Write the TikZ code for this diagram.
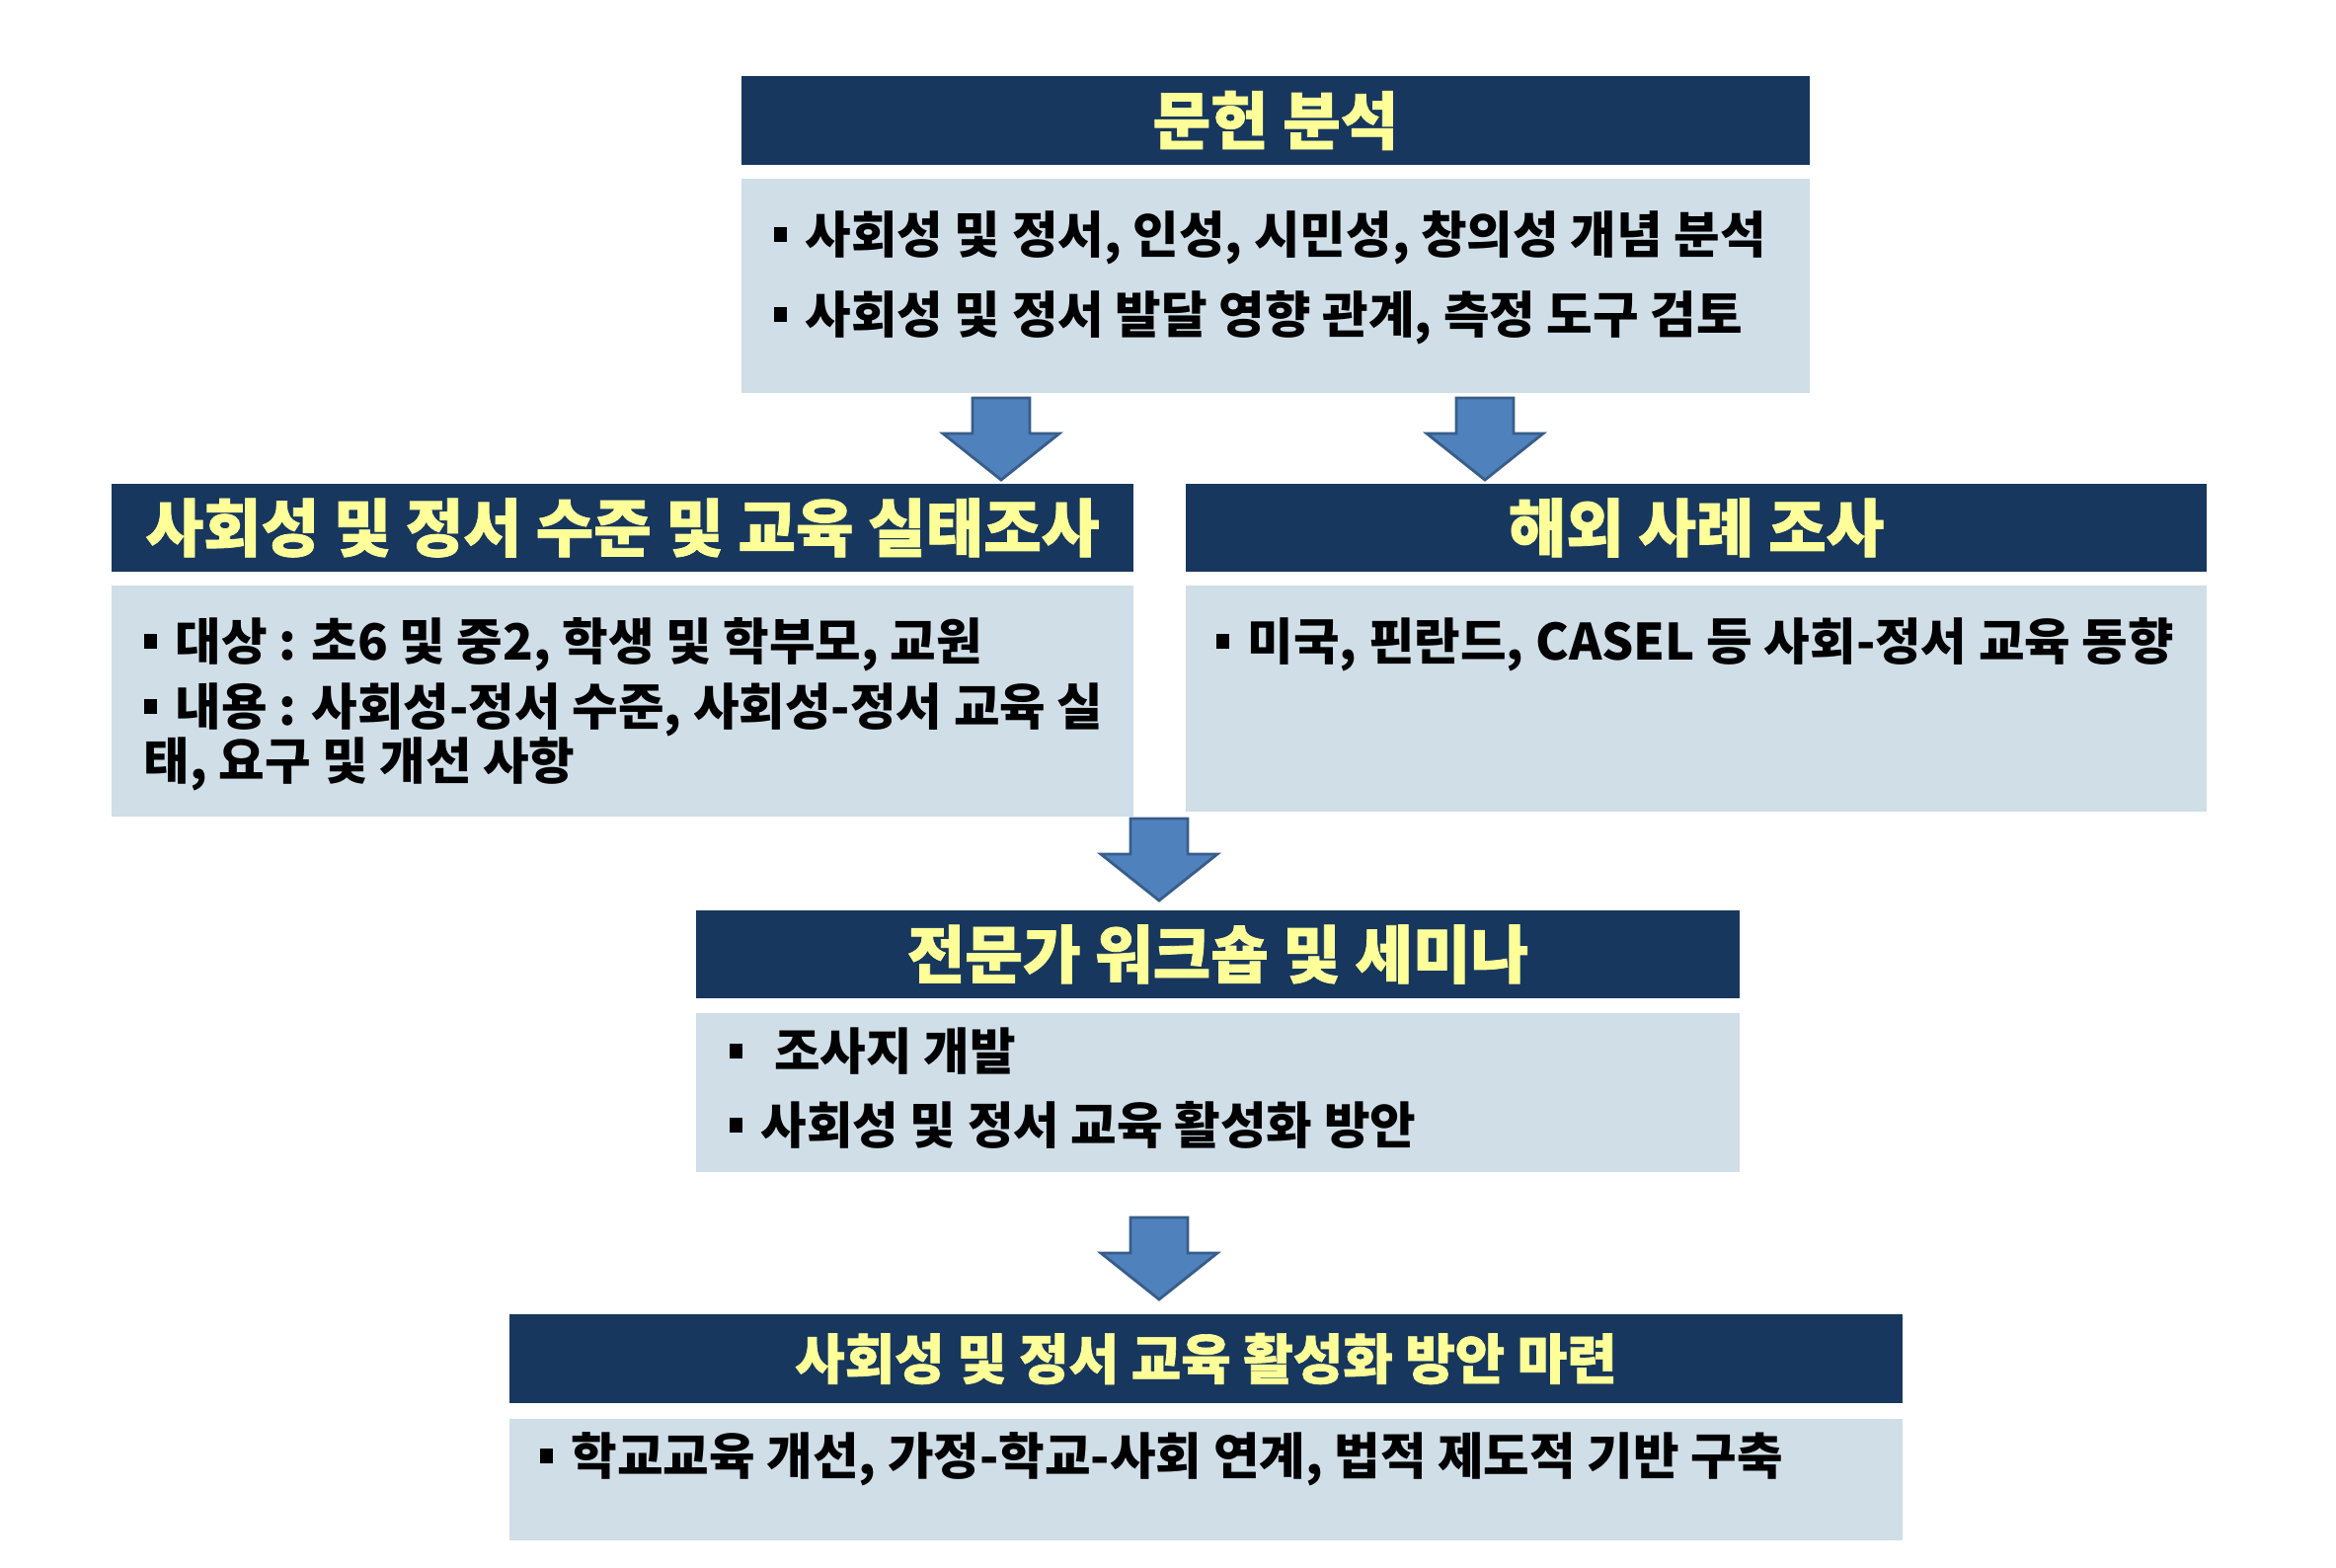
\documentclass[tikz,border=0pt]{standalone}
\usepackage{fontspec}
\usetikzlibrary{fit}
\setmainfont{Noto Sans CJK KR}
\newfontfamily\hdfont{Noto Sans CJK KR}[FakeBold=1.2]
\definecolor{navy}{HTML}{17375E}
\definecolor{hdtext}{HTML}{FFFF99}
\definecolor{bodyfill}{HTML}{CFDEE7}
\definecolor{arrfill}{HTML}{4F81BD}
\definecolor{arrline}{HTML}{385D8A}
\newcommand\mybul{\rule[0.22em]{0.27em}{0.3em}\hspace{0.36em}}
\tikzset{
  hdbox/.style={fill=navy, draw=none, inner sep=0pt},
  bodybox/.style={fill=bodyfill, draw=none, inner sep=0pt},
  hdtxt/.style={text=hdtext, inner sep=0pt, font=\hdfont\bfseries\fontsize{18.1pt}{22pt}\selectfont},
  hdtxtsmall/.style={hdtxt, font=\hdfont\bfseries\fontsize{15.6pt}{19pt}\selectfont},
  bodytxt/.style={anchor=base west, inner sep=0pt, text=black, font=\bfseries\fontsize{14.4pt}{17pt}\selectfont},
  blockarr/.style={fill=arrfill, draw=arrline, line width=0.8pt, line join=miter},
}
\begin{document}
\begin{tikzpicture}[x=0.01cm, y=-0.01cm]
\useasboundingbox (0,0) rectangle (2366,1587);
\fill[white] (0,0) rectangle (2366,1587);

% top
\node[hdbox, fit={(751,77) (1833,167)}] (h1) {};
\node[hdtxt] (h1t) at (h1) {문헌 분석};
\node[bodybox, fit={(751,181) (1833,398)}] (b1) {};
\node[bodytxt] (b1l1) at (783,256) {\mybul 사회성 및 정서, 인성, 시민성, 창의성 개념 분석};
\node[bodytxt] (b1l2) at (783,337) {\mybul 사회성 및 정서 발달 영향 관계, 측정 도구 검토};

% left
\node[hdbox, fit={(113,490) (1148,579)}] (h2) {};
\node[hdtxt] (h2t) at (h2) {사회성 및 정서 수준 및 교육 실태조사};
\node[bodybox, fit={(113,593) (1148,827)}] (b2) {};
\node[bodytxt] (b2l1) at (145,668) {\mybul 대상 : 초6 및 중2, 학생 및 학부모, 교원};
\node[bodytxt] (b2l2) at (145,734) {\mybul 내용 : 사회성-정서 수준, 사회성-정서 교육 실};
\node[bodytxt] (b2l3) at (145,789) {태, 요구 및 개선 사항};

% right
\node[hdbox, fit={(1201,490) (2235,579)}] (h3) {};
\node[hdtxt] (h3t) at (h3) {해외 사례 조사};
\node[bodybox, fit={(1201,593) (2235,822)}] (b3) {};
\node[bodytxt] (b3l1) at (1231,668) {\mybul 미국, 핀란드, CASEL 등 사회-정서 교육 동향};

% middle
\node[hdbox, fit={(705,922) (1762,1011)}] (h4) {};
\node[hdtxt] (h4t) at (h4) {전문가 워크숍 및 세미나};
\node[bodybox, fit={(705,1026) (1762,1187)}] (b4) {};
\node[bodytxt] (b4l1) at (738,1083) {\mybul\hspace{0.27em}조사지 개발};
\node[bodytxt] (b4l2) at (738,1158) {\mybul 사회성 및 정서 교육 활성화 방안};

% bottom
\node[hdbox, fit={(516,1331) (1927,1421)}] (h5) {};
\node[hdtxtsmall] (h5t) at (h5) {사회성 및 정서 교육 활성화 방안 마련};
\node[bodybox, fit={(516,1437) (1927,1560)}] (b5) {};
\node[bodytxt] (b5l1) at (546,1493) {\mybul 학교교육 개선, 가정-학교-사회 연계, 법적 제도적 기반 구축};

% block arrows
\coordinate (a1) at (1014,403);
\coordinate (a2) at (1504,403);
\coordinate (a3) at (1174,829);
\coordinate (a4) at (1174,1233);
\foreach \a in {a1,a2,a3,a4}{
  \draw[blockarr] (\a) ++(-29,0) -- ++(58,0) -- ++(0,36) -- ++(30,0) -- ++(-59,47) -- ++(-59,-47) -- ++(30,0) -- cycle;
}
\end{tikzpicture}
\end{document}
